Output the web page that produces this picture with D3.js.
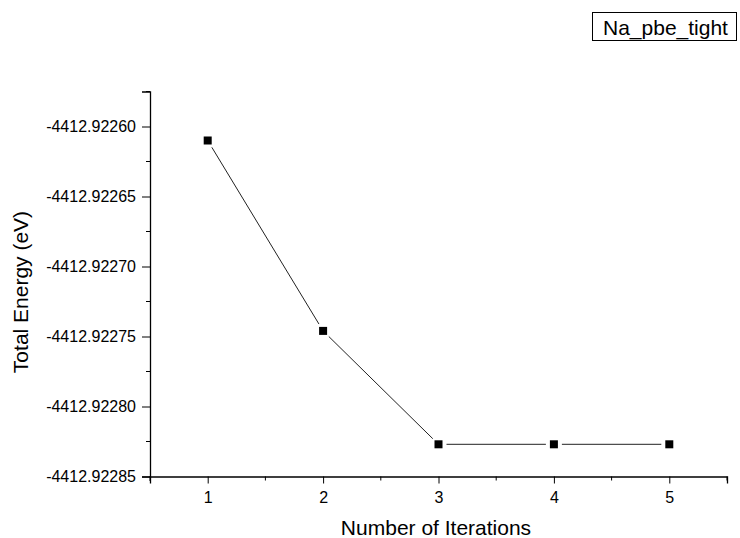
<!DOCTYPE html>
<html>
<head>
<meta charset="utf-8">
<script src="https://d3js.org/d3.v7.min.js"></script>
<style>
  body { margin: 0; background: #fff; }
  text { font-family: Arial, "Liberation Sans", sans-serif; fill: #000; }
</style>
</head>
<body>
<div id="chart"></div>
<script>
// data
var iterations = [1, 2, 3, 4, 5];
var energies = [-4412.92261, -4412.922746, -4412.922827, -4412.922827, -4412.922827];
var yTicks = [-4412.92260, -4412.92265, -4412.92270, -4412.92275, -4412.92280, -4412.92285];
var xMinorTicks = [1.5, 2.5, 3.5, 4.5, 5.5];
var seriesName = "Na_pbe_tight";

var svgWidth = 740;
var svgHeight = 538;

var svg = d3.select("#chart")
  .append("svg")
  .attr("width", svgWidth)
  .attr("height", svgHeight);

var x = d3.scaleLinear()
  .domain([0.5, 5.5])
  .range([150, 727]);

var y = d3.scaleLinear()
  .domain([-4412.92285, -4412.922575])
  .range([476.5, 91.5]);

var fmtY = d3.format(".5f");

// x axis
var xAxis = d3.axisBottom(x)
  .tickValues(iterations)
  .tickSize(7)
  .tickPadding(8)
  .tickFormat(d3.format("d"));

var gx = svg.append("g")
  .attr("transform", "translate(0,476.5)")
  .call(xAxis);

// minor ticks x
svg.append("g")
  .attr("transform", "translate(0,476.5)")
  .selectAll("line")
  .data(xMinorTicks)
  .enter()
  .append("line")
  .attr("x1", d => x(d))
  .attr("x2", d => x(d))
  .attr("y1", 0)
  .attr("y2", 4)
  .attr("stroke", "black");

// y axis
var yAxis = d3.axisLeft(y)
  .tickValues(yTicks)
  .tickSize(8)
  .tickPadding(6)
  .tickFormat(d => fmtY(d).replace("\u2212", "-"));

var gy = svg.append("g")
  .attr("transform", "translate(150,0)")
  .call(yAxis);

// minor ticks y
var minorY = yTicks.slice(0, -1).map(d => d - 0.000025);
minorY.push(-4412.922575);
svg.append("g")
  .attr("transform", "translate(150,0)")
  .selectAll("line")
  .data(minorY)
  .enter()
  .append("line")
  .attr("x1", 0)
  .attr("x2", -4)
  .attr("y1", d => y(d))
  .attr("y2", d => y(d))
  .attr("stroke", "black");

// y axis pokes a bit below the x axis
svg.append("line")
  .attr("x1", 150).attr("x2", 150)
  .attr("y1", 476).attr("y2", 481)
  .attr("stroke", "black");

[gx, gy].forEach(function(g) {
  g.select(".domain").attr("stroke", "black").attr("stroke-width", 1.3);
  g.selectAll(".tick line").attr("stroke", "black").attr("stroke-width", 1);
  g.selectAll(".tick text")
    .attr("font-size", "16px")
    .attr("font-family", "Arial, 'Liberation Sans', sans-serif");
});

// line segments with small gaps at the markers
var pts = iterations.map((d, i) => [x(d), y(energies[i])]);
var gap = 8;
var segs = [];
for (var i = 0; i < pts.length - 1; i++) {
  var a = pts[i], b = pts[i + 1];
  var dx = b[0] - a[0], dy = b[1] - a[1];
  var len = Math.sqrt(dx * dx + dy * dy);
  segs.push({
    x1: a[0] + dx / len * gap, y1: a[1] + dy / len * gap,
    x2: b[0] - dx / len * gap, y2: b[1] - dy / len * gap
  });
}

svg.append("g")
  .selectAll("line")
  .data(segs)
  .enter()
  .append("line")
  .attr("x1", d => d.x1)
  .attr("y1", d => d.y1)
  .attr("x2", d => d.x2)
  .attr("y2", d => d.y2)
  .attr("stroke", "#222")
  .attr("stroke-width", 1);

svg.append("g")
  .selectAll("rect")
  .data(iterations)
  .enter()
  .append("rect")
  .attr("x", (d, i) => x(d) - 4)
  .attr("y", (d, i) => y(energies[i]) - 4)
  .attr("width", 8)
  .attr("height", 8)
  .attr("fill", "black");

// axis titles
svg.append("text")
  .attr("x", 436)
  .attr("y", 535)
  .attr("text-anchor", "middle")
  .attr("font-size", "21px")
  .text("Number of Iterations");

svg.append("text")
  .attr("transform", "translate(28,292) rotate(-90)")
  .attr("text-anchor", "middle")
  .attr("font-size", "21px")
  .text("Total Energy (eV)");

// legend
svg.append("rect")
  .attr("x", 592.5)
  .attr("y", 12.5)
  .attr("width", 144)
  .attr("height", 28)
  .attr("fill", "white")
  .attr("stroke", "black")
  .attr("stroke-width", 1);

svg.append("text")
  .attr("x", 603)
  .attr("y", 35)
  .attr("font-size", "21px")
  .text(seriesName);
</script>
</body>
</html>
